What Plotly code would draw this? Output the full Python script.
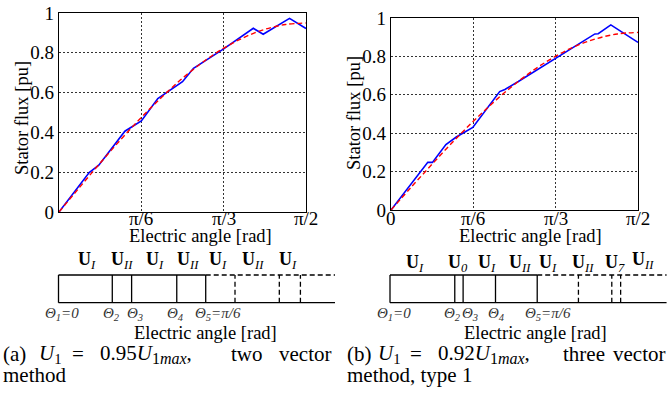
import plotly.graph_objects as go

W, H = 671, 403
FONT = "Times New Roman, Liberation Serif, Times, serif"

# ---------------- data (angles in degrees, flux in pu) ----------------
angle_a = [0, 11.0, 14.5, 24.0, 30.0, 36.0, 45.0, 49.0, 60.0, 70.8, 74.4, 84.0, 90.0]
flux_a = [0, 0.198, 0.235, 0.406, 0.458, 0.570, 0.655, 0.722, 0.820, 0.923, 0.893, 0.973, 0.922]

angle_b = [0, 13.4, 15.1, 20.0, 23.8, 29.8, 39.6, 41.5, 46.4, 74.3, 75.5, 80.1, 90.0]
flux_b = [0, 0.248, 0.248, 0.341, 0.380, 0.430, 0.617, 0.628, 0.669, 0.917, 0.918, 0.964, 0.873]

ref_angle = [0, 7.5, 15, 22.5, 30, 37.5, 45, 52.5, 60, 67.5, 75, 82.5, 90]
ref_a = [0, 0.124, 0.246, 0.364, 0.475, 0.578, 0.672, 0.754, 0.823, 0.878, 0.918, 0.942, 0.950]
ref_b = [0, 0.121, 0.239, 0.354, 0.462, 0.563, 0.654, 0.734, 0.801, 0.855, 0.893, 0.917, 0.925]

x_tick_vals = [0, 30, 60, 90]
x_tick_text_a = ["", "π/6", "π/3", "π/2"]
x_tick_text_b = ["0", "π/6", "π/3", "π/2"]
y_tick_vals = [0, 0.2, 0.4, 0.6, 0.8, 1.0]
y_tick_text = ["0", "0.2", "0.4", "0.6", "0.8", "1"]

# switching diagrams (angles in degrees)
seg_a_solid = [0, 10.96, 14.9, 24.1, 30.0]
seg_a_dashed = [35.97, 45.0, 49.3]
diag_end_a = 56.35
vec_sub_a = ["I", "II", "I", "II", "I", "II", "I"]
vec_pos_a = [5.75, 12.9, 19.7, 26.4, 32.5, 39.6, 46.8]
theta_text_a = ["1=0", "2", "3", "4", "5=π/6"]
theta_pos_a = [0.7, 10.8, 15.6, 23.9, 32.5]

seg_b_solid = [0, 13.2, 14.9, 21.5, 30.0]
seg_b_dashed = [38.4, 45.2, 47.0]
diag_end_b = 56.4
vec_sub_b = ["I", "0", "I", "II", "I", "II", "7", "II"]
vec_pos_b = [5.1, 13.8, 19.75, 26.5, 32.2, 39.3, 45.8, 51.5]
theta_text_b = ["1=0", "2", "3", "4", "5=π/6"]
theta_pos_b = [0.8, 12.8, 16.3, 21.7, 32.1]


def px(x):
    return x / W


def py(y):
    return 1 - y / H


fig = go.Figure()

for xa, ya, ang, flux, ref in [("x", "y", angle_a, flux_a, ref_a), ("x2", "y2", angle_b, flux_b, ref_b)]:
    fig.add_trace(go.Scatter(x=ang, y=flux, mode="lines", xaxis=xa, yaxis=ya,
                             line=dict(color="#0000ff", width=1.6), showlegend=False))
    fig.add_trace(go.Scatter(x=ref_angle, y=ref, mode="lines", xaxis=xa, yaxis=ya,
                             line=dict(color="#ff0000", width=1.4, dash="5px,3px", shape="spline"),
                             showlegend=False))

axis_common = dict(showgrid=True, gridcolor="#333", griddash="2px,2px", gridwidth=1,
                   showline=True, linecolor="black", linewidth=1.3, mirror=True,
                   zeroline=False, ticks="", automargin=False,
                   tickfont=dict(family=FONT, size=19, color="black"))

fig.update_layout(
    xaxis=dict(domain=[px(59), px(306)], range=[0, 90], tickvals=x_tick_vals, showticklabels=False,
               anchor="y", **axis_common),
    yaxis=dict(domain=[py(212), py(13)], range=[0, 1], tickvals=y_tick_vals, ticktext=y_tick_text,
               anchor="x", **axis_common),
    xaxis2=dict(domain=[px(391), px(638)], range=[0, 90], tickvals=x_tick_vals, showticklabels=False,
                anchor="y2", **axis_common),
    yaxis2=dict(domain=[py(210), py(18)], range=[0, 1], tickvals=y_tick_vals, ticktext=y_tick_text,
                anchor="x2", **axis_common),
)

scale = 4.907
hidden = dict(visible=False, showgrid=False, zeroline=False, fixedrange=True, automargin=False)
diag_top, diag_bot = 275.0, 302.7
unit = (diag_bot - diag_top)
fig.update_layout(
    xaxis3=dict(domain=[px(58.5 - scale), px(58.5 + diag_end_a * scale)], range=[-1, diag_end_a],
                anchor="y3", **hidden),
    yaxis3=dict(domain=[py(diag_bot + 0.25 * unit), py(diag_top - 0.25 * unit)], range=[-0.25, 1.25],
                anchor="x3", **hidden),
    xaxis4=dict(domain=[px(390 - scale), px(390 + diag_end_b * scale)], range=[-1, diag_end_b],
                anchor="y4", **hidden),
    yaxis4=dict(domain=[py(diag_bot + 0.25 * unit), py(diag_top - 0.25 * unit)], range=[-0.25, 1.25],
                anchor="x4", **hidden),
)

shapes = []
annotations = []

for xr, texts in [("x", x_tick_text_a), ("x2", x_tick_text_b)]:
    for v, t in zip(x_tick_vals, texts):
        if t:
            annotations.append(dict(x=v, y=py(218), xref=xr, yref="paper", text=t, showarrow=False,
                                    xanchor="center", yanchor="middle",
                                    font=dict(family=FONT, size=19, color="black")))

for xr, yr, solid, dashed, end, vsub, vpos, ttxt, tpos, ushift in [
        ("x3", "y3", seg_a_solid, seg_a_dashed, diag_end_a, vec_sub_a, vec_pos_a, theta_text_a, theta_pos_a, 3),
        ("x4", "y4", seg_b_solid, seg_b_dashed, diag_end_b, vec_sub_b, vec_pos_b, theta_text_b, theta_pos_b, 0)]:
    ln = dict(color="black", width=1.3)
    dl = dict(color="black", width=1.3, dash="5px,3px")
    shapes.append(dict(type="line", xref=xr, yref=yr, x0=solid[0], x1=solid[-1], y0=1, y1=1, line=ln))
    shapes.append(dict(type="line", xref=xr, yref=yr, x0=solid[0], x1=end, y0=0, y1=0, line=ln))
    for s in solid:
        shapes.append(dict(type="line", xref=xr, yref=yr, x0=s, x1=s, y0=0, y1=1, line=ln))
    shapes.append(dict(type="line", xref=xr, yref=yr, x0=solid[-1], x1=end, y0=1, y1=1, line=dl))
    for s in dashed:
        shapes.append(dict(type="line", xref=xr, yref=yr, x0=s, x1=s, y0=0, y1=1, line=dl))
    for i, (sub, p) in enumerate(zip(vsub, vpos)):
        extra = 3 if (xr == "x4" and i == len(vsub) - 1) else 0
        annotations.append(dict(x=p, y=1, xref=xr, yref=yr, xanchor="center", yanchor="bottom",
                                yshift=ushift + extra - 2, showarrow=False,
                                text="<b>U</b><sub><i>%s</i></sub>" % sub,
                                font=dict(family=FONT, size=18, color="black")))
    for t, p in zip(ttxt, tpos):
        if "=" in t:
            num, rest = t.split("=")
            txt = "<i>Θ</i><sub><i>%s</i></sub><i>=%s</i>" % (num, rest)
        else:
            txt = "<i>Θ</i><sub><i>%s</i></sub>" % t
        annotations.append(dict(x=p, y=0, xref=xr, yref=yr, xanchor="center", yanchor="top",
                                yshift=0, showarrow=False, text=txt,
                                font=dict(family=FONT, size=15, color="#333")))


def ann(x, y, text, size=19, angle=0, xanchor="center", yanchor="middle"):
    annotations.append(dict(x=px(x), y=py(y), xref="paper", yref="paper", text=text, showarrow=False,
                            textangle=angle, xanchor=xanchor, yanchor=yanchor,
                            font=dict(family=FONT, size=size, color="black")))


ann(22, 118, "Stator flux [pu]", size=18.5, angle=-90)
ann(354, 113, "Stator flux [pu]", size=18.5, angle=-90)
ann(200, 236, "Electric angle [rad]", size=18.5)
ann(530, 236, "Electric angle [rad]", size=18.5)
ann(205, 333, "Electric angle [rad]", size=18.5)
ann(535, 333, "Electric angle [rad]", size=18.5)

SUBMAX = '<sub><span style="font-size:16px">1<i>max</i></span></sub>'
cap_words_a = [(1, "(a)"), (37, "<i>U</i><sub>1</sub>"), (70, "="),
               (98, "0.95<i>U</i>" + SUBMAX + ","), (229, "two"), (277, "vector")]
cap_words_b = [(345, "(b)"), (376, "<i>U</i><sub>1</sub>"), (408, "="),
               (436, "0.92<i>U</i>" + SUBMAX + ","), (561, "three"), (611, "vector")]
for xw, w in cap_words_a + cap_words_b:
    ann(xw, 354, w, size=21, xanchor="left")
ann(1, 375, "method", size=21, xanchor="left")
ann(345, 375, "method, type 1", size=21, xanchor="left")

fig.update_layout(shapes=shapes, annotations=annotations,
                  width=W, height=H, autosize=False,
                  margin=dict(l=0, r=0, t=0, b=0, pad=0),
                  paper_bgcolor="white", plot_bgcolor="white",
                  font=dict(family=FONT, color="black"))

fig.write_html("out.html", config={"displayModeBar": False},
               post_script="document.body.style.margin='0';document.body.style.overflow='hidden';")
